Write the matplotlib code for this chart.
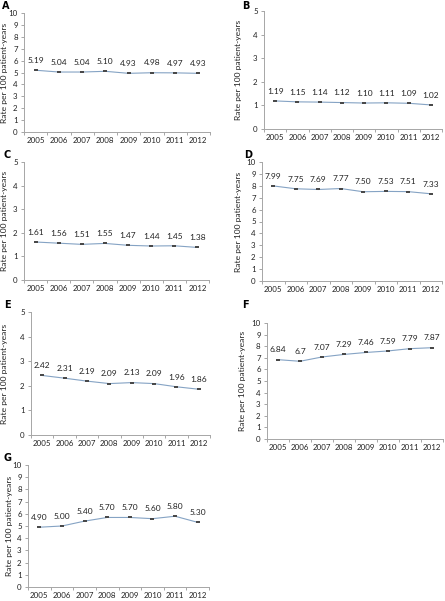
import numpy as np
import matplotlib
matplotlib.use('Agg')
import matplotlib.pyplot as plt

plt.rcParams['font.family'] = ['Lato', 'DejaVu Sans']

years = ['2005', '2006', '2007', '2008', '2009', '2010', '2011', '2012']

rate_a = [5.19, 5.04, 5.04, 5.10, 4.93, 4.98, 4.97, 4.93]
rate_b = [1.19, 1.15, 1.14, 1.12, 1.10, 1.11, 1.09, 1.02]
rate_c = [1.61, 1.56, 1.51, 1.55, 1.47, 1.44, 1.45, 1.38]
rate_d = [7.99, 7.75, 7.69, 7.77, 7.50, 7.53, 7.51, 7.33]
rate_e = [2.42, 2.31, 2.19, 2.09, 2.13, 2.09, 1.96, 1.86]
rate_f = [6.84, 6.7, 7.07, 7.29, 7.46, 7.59, 7.79, 7.87]
rate_g = [4.90, 5.00, 5.40, 5.70, 5.70, 5.60, 5.80, 5.30]

labels_f = ['6.84', '6.7', '7.07', '7.29', '7.46', '7.59', '7.79', '7.87']

W, H = 445, 601

# panel: letter, values, ymax, axes box px (left, right, top, bottom), letter pos, ylabel x px
panels = [
    ('A', rate_a, 10, (24, 210, 13, 132), (2, 6), 5, None),
    ('B', rate_b, 5, (264, 442, 11, 129), (242, 6), 239, None),
    ('C', rate_c, 5, (24, 209, 162, 280), (4, 155), 5, None),
    ('D', rate_d, 10, (262, 442, 162, 281), (244, 155), 239, None),
    ('E', rate_e, 5, (31, 210, 312, 435), (4, 305), 5, None),
    ('F', rate_f, 10, (267, 443, 323, 439), (242, 305), 242, labels_f),
    ('G', rate_g, 10, (28, 209, 465, 587), (4, 458), 10, None),
]

fig = plt.figure(figsize=(W / 100, H / 100), dpi=100)
grey = '#a6a6a6'
x = np.arange(len(years))

for letter, vals, ymax, (l, r, t, b), (lx, ly), ylx, labs in panels:
    ax = fig.add_axes([l / W, 1 - b / H, (r - l) / W, (b - t) / H])
    ax.plot(x, vals, color='#85a3c4', lw=0.8, zorder=2)
    ax.plot(x, vals, ls='none', marker='_', ms=3.5, mew=1.4, color='#454545', zorder=3)
    if labs is None:
        labs = ['%.2f' % v for v in vals]
    for xi, v, s in zip(x, vals, labs):
        ax.annotate(s, (xi, v), xytext=(0, 4.5), textcoords='offset points',
                    ha='center', va='bottom', fontsize=6, color='#222222')
    ax.set_xlim(-0.5, len(years) - 0.5)
    ax.set_ylim(0, ymax)
    ax.set_yticks(range(0, ymax + 1))
    ax.set_xticks(x)
    ax.set_xticklabels(years)
    ax.set_xticks(np.arange(-0.5, len(years)), minor=True)
    ax.tick_params(axis='x', which='major', length=0, labelsize=5.7, pad=3.5, colors='#222222')
    ax.tick_params(axis='x', which='minor', length=2.5, color=grey, width=0.7)
    ax.tick_params(axis='y', length=2.5, color=grey, width=0.7, labelsize=5.7, pad=2,
                   labelcolor='#222222')
    for sp in ['top', 'right']:
        ax.spines[sp].set_visible(False)
    for sp in ['left', 'bottom']:
        ax.spines[sp].set_color(grey)
        ax.spines[sp].set_linewidth(0.7)
    ax.set_ylabel('Rate per 100 patient-years', fontsize=6.1, color='#222222')
    ax.yaxis.set_label_coords((ylx - l) / (r - l), 0.5)
    ax.yaxis.label.set_va('center')
    ax.patch.set_alpha(0)
    fig.text(lx / W, 1 - ly / H, letter, fontsize=7, fontweight='bold',
             family='DejaVu Sans', ha='left', va='center')

fig.savefig('out.png', dpi=100)
